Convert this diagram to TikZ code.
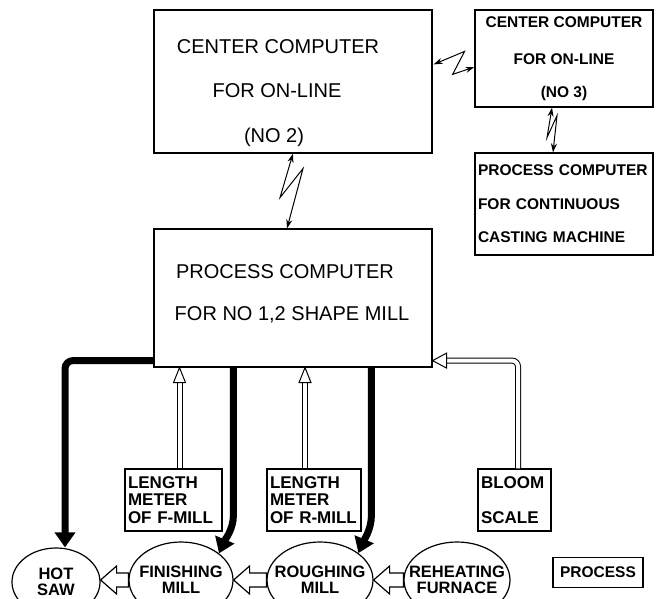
\documentclass[tikz,border=0pt]{standalone}
\usepackage{fontspec}
\setmainfont{Liberation Sans}
\usetikzlibrary{arrows.meta,calc,shapes.geometric}

\begin{document}
\begin{tikzpicture}[x=1pt, y=-1pt,
        box/.style={draw, line width=1.2pt, inner sep=0pt},
        bigtxt/.style={font=\fontsize{20}{24}\selectfont},
        smalltxt/.style={font=\bfseries\fontsize{15.5}{18}\selectfont},
        meter/.style={box, inner sep=3pt, minimum height=62pt, align=left,
          font=\bfseries\fontsize{17}{17.5}\selectfont},
        mill/.style={draw, ellipse, line width=1.2pt, inner xsep=-14pt, inner ysep=-10pt,
          align=center, font=\bfseries\fontsize{16.5}{16}\selectfont},
        heavy/.style={line width=7pt, -{Triangle[length=15pt, width=20pt]}},
        hollow/.style={double, double distance=4pt, line width=1pt},
        hollowtip/.style={draw, line width=1pt, fill=white},
        zig/.style={line width=1pt, {Stealth[length=9pt, width=6pt]}-{Stealth[length=9pt, width=6pt]}}]
    \useasboundingbox (0,0) rectangle (656,599);
    \clip (0,0) rectangle (656,599);
    % computers
    \node[box, minimum width=278pt, minimum height=143pt] (cc2) at (293,81.5) {};
    \node[bigtxt] (cc2a) at (278,47) {CENTER COMPUTER};
    \node[bigtxt] (cc2b) at (277,91) {FOR ON-LINE};
    \node[bigtxt] (cc2c) at (274,137) {(NO 2)};
    \node[box, minimum width=178pt, minimum height=97pt, align=center, smalltxt] (cc3)
        at (564,58.5) {CENTER COMPUTER\\[19pt]FOR ON-LINE\\[15pt](NO 3)};
    \node[box, minimum height=102pt, inner sep=3pt, text width=172pt, align=left, smalltxt] (pcc)
        at (564,204) {PROCESS COMPUTER\\[16pt]FOR CONTINUOUS\\[15pt]CASTING MACHINE};
    \node[box, minimum width=278pt, minimum height=138pt] (pc) at (293,298) {};
    \node[bigtxt] (pca) at (285,272) {PROCESS COMPUTER};
    \node[bigtxt] (pcb) at (292,315) {FOR NO 1,2 SHAPE MILL};
    % sensors
    \node[meter, text width=91pt] (lf) at (173.5,500) {LENGTH\\METER\\OF F-MILL};
    \node[meter, text width=88pt] (lr) at (314,500) {LENGTH\\METER\\OF R-MILL};
    \node[meter, text width=67pt] (bs) at (514.5,500) {BLOOM\\[17.5pt]SCALE};
    % process line
    \node[mill, minimum width=88pt, minimum height=68pt] (hs) at (56,582) {HOT\\SAW};
    \node[mill, minimum width=104pt, minimum height=76pt] (fm) at (181,580) {FINISHING\\MILL};
    \node[mill, minimum width=106pt, minimum height=76pt] (rm) at (320,580) {ROUGHING\\MILL};
    \node[mill, minimum width=106pt, minimum height=76pt] (rf) at (457,580) {REHEATING\\FURNACE};
    \node[box, minimum width=90pt, minimum height=30pt, smalltxt] (key) at (598,572.5) {PROCESS};
    % radio links
    \draw[zig] ($(cc2.north east)+(1,55)$) -- ++(31,-13) -- ++(-12,23) -- ($(cc3.west)+(0,8.5)$);
    \draw[zig] (cc2.south) -- ++(-13,44) -- ++(23,-29) -- ($(pc.north)+(-6,0)$);
    \draw[zig] ($(cc3.south)+(-12,0)$) -- ++(-5,30) -- ++(10,-22) -- ($(pcc.north)+(-11,0)$);
    % control lines
    \draw[heavy, rounded corners=8pt] ($(pc.south west)+(0,-7)$) -| ($(hs.north)+(9,0)$);
    \foreach \m/\dx in {fm/80, rm/218}
        \draw[heavy] ($(pc.south west)+(\dx,0)$) -- ++(0,148)
            .. controls +(0,14) and ($(\m.35)+(5,-12)$) .. (\m.35);
    % measured data
    \foreach \b/\dx in {lf/6, lr/-9}
    {
        \draw[hollow] ($(\b.north)+(\dx,0)$) -- ($(\b.north |- pc.south)+(\dx,15)$);
        \draw[hollowtip] ($(\b.north |- pc.south)+(\dx,0)$) -- ++(-6,15) -- ++(12,0) -- cycle;
    }
    \draw[hollow, rounded corners=6pt] ($(bs.north)+(3.5,0)$) |- ($(pc.south east)+(14,-7)$);
    \draw[hollowtip] ($(pc.south east)+(0,-7)$) -- ++(14,-7.5) -- ++(0,15) -- cycle;
    % product flow
    \foreach \a/\b in {hs/fm, fm/rm, rm/rf}
        \draw[hollowtip, line width=1.2pt] (\a.east |- \b.west) -- ++(16,-14) -- ++(0,7)
            -- ($(\b.west)+(0,-7)$) -- ($(\b.west)+(0,7)$)
            -- ($(\a.east |- \b.west)+(16,7)$) -- ++(0,7) -- cycle;
\end{tikzpicture}
\end{document}
